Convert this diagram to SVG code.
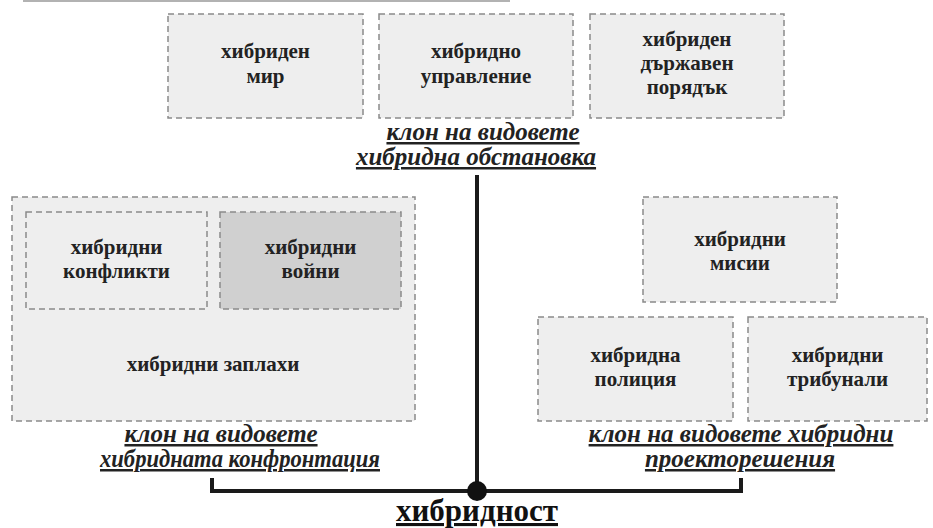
<svg xmlns="http://www.w3.org/2000/svg" width="933" height="528" viewBox="0 0 933 528">
<style>
.box{fill:#eeeeee;stroke:#8a8a8a;stroke-width:1.5;stroke-dasharray:6 4}
.dark{fill:#d0d0d0}
text{font-family:'Times New Roman',Times,'Liberation Serif','DejaVu Serif','Noto Serif',serif}
.t{font-weight:bold;font-size:21px;fill:#222;text-anchor:middle}
.lbl{font-weight:bold;font-style:italic;font-size:25px;fill:#222;text-anchor:middle;text-decoration:underline}
.root{font-weight:bold;font-size:31px;fill:#111;text-anchor:middle;text-decoration:underline}
.conn{stroke:#1a1a1a;stroke-width:4;fill:none}
</style>
<rect width="933" height="528" fill="#ffffff"/>
<line x1="23" y1="1" x2="510" y2="1" stroke="#666" stroke-width="1.2"/>

<g id="connectors">
<line class="conn" x1="477" y1="175" x2="477" y2="491"/>
<polyline class="conn" points="212,478 212,491 741,491 741,478"/>
<circle cx="477" cy="491" r="10" fill="#111"/>
</g>

<g id="hybrid-peace">
<rect class="box" x="168" y="14" width="195" height="104"/>
<text class="t" x="265.5" y="58">хибриден</text>
<text class="t" x="265.5" y="83">мир</text>
</g>
<g id="hybrid-governance">
<rect class="box" x="379" y="14" width="194" height="104"/>
<text class="t" x="476" y="58">хибридно</text>
<text class="t" x="476" y="83">управление</text>
</g>
<g id="hybrid-state-order">
<rect class="box" x="590" y="14" width="194" height="104"/>
<text class="t" x="687" y="46">хибриден</text>
<text class="t" x="687" y="70">държавен</text>
<text class="t" x="687" y="94">порядък</text>
</g>
<g id="label-environment">
<text class="lbl" x="483" y="140">клон на видовете </text>
<text class="lbl" x="476" y="165">хибридна обстановка</text>
</g>

<g id="hybrid-threats">
<rect class="box" x="12" y="197" width="403" height="224"/>
<text class="t" x="213" y="371">хибридни заплахи</text>
</g>
<g id="hybrid-conflicts">
<rect class="box" x="26" y="212" width="181" height="97"/>
<text class="t" x="116.5" y="254">хибридни</text>
<text class="t" x="116.5" y="278">конфликти</text>
</g>
<g id="hybrid-wars">
<rect class="box dark" x="220" y="212" width="181" height="97"/>
<text class="t" x="310.5" y="254">хибридни</text>
<text class="t" x="310.5" y="278">войни</text>
</g>
<g id="label-confrontation">
<text class="lbl" x="221" y="442">клон на видовете </text>
<text class="lbl" x="240" y="467" textLength="280" lengthAdjust="spacingAndGlyphs">хибридната конфронтация</text>
</g>

<g id="hybrid-missions">
<rect class="box" x="643" y="197" width="194" height="105"/>
<text class="t" x="740" y="246">хибридни</text>
<text class="t" x="740" y="270">мисии</text>
</g>
<g id="hybrid-police">
<rect class="box" x="538" y="317" width="195" height="104"/>
<text class="t" x="635.5" y="362">хибридна</text>
<text class="t" x="635.5" y="386">полиция</text>
</g>
<g id="hybrid-tribunals">
<rect class="box" x="748" y="317" width="179" height="104"/>
<text class="t" x="837.5" y="362">хибридни</text>
<text class="t" x="837.5" y="386">трибунали</text>
</g>
<g id="label-projects">
<text class="lbl" x="741" y="442">клон на видовете хибридни</text>
<text class="lbl" x="740" y="467">проекторешения</text>
</g>

<g id="hybridity">
<text class="root" x="477" y="521">хибридност</text>
</g>
</svg>
